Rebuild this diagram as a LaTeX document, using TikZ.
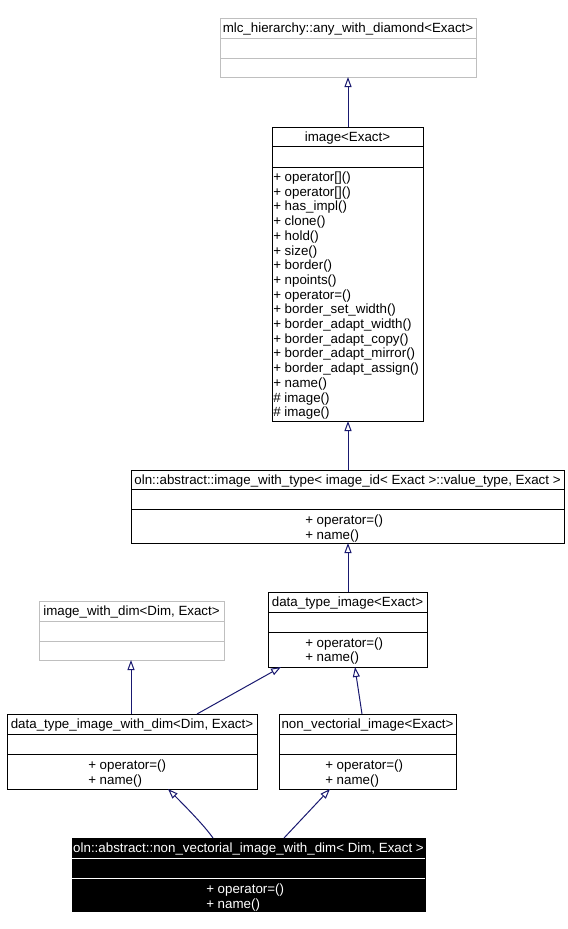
\documentclass[tikz,border=0pt]{standalone}
\usepackage{fontspec}
\setmainfont{Liberation Sans}
\usetikzlibrary{fit,calc,arrows.meta}
\definecolor{boxgray}{RGB}{191,191,191}
\definecolor{edgeblue}{RGB}{25,25,112}
\tikzset{
  umlbox/.style={draw=black, line width=0.75pt, inner sep=0pt, outer sep=0pt},
  graybox/.style={draw=boxgray, line width=0.75pt, inner sep=0pt, outer sep=0pt},
  darkbox/.style={draw=black, fill=black, line width=0.75pt, inner sep=0pt, outer sep=0pt},
  umlsep/.style={draw=black, line width=0.75pt},
  graysep/.style={draw=boxgray, line width=0.75pt},
  darksep/.style={draw=white, line width=0.75pt},
  txt/.style={inner sep=0pt, font=\fontsize{10}{11}\selectfont},
  wtxt/.style={txt, text=white},
  inh/.style={draw=edgeblue, line width=0.75pt,
    -{Triangle[length=7.5pt, width=5.25pt, fill=white, line width=0.75pt]}},
}
\begin{document}
\begin{tikzpicture}[x=0.75pt, y=-0.75pt]
\useasboundingbox (0,0) rectangle (568,929);
\fill[white] (0,0) rectangle (568,929);
% boxes
\node[graybox, fit={(220,18)(476,77)}] (any) {};
\draw[graysep] (220,38) -- (476,38);
\draw[graysep] (220,58) -- (476,58);
\node[umlbox, fit={(272,127)(423,421)}] (img) {};
\draw[umlsep] (272,146) -- (423,146);
\draw[umlsep] (272,167) -- (423,167);
\node[umlbox, fit={(131,470)(564,543)}] (iwt) {};
\draw[umlsep] (131,489) -- (564,489);
\draw[umlsep] (131,509) -- (564,509);
\node[graybox, fit={(39,601)(224,660)}] (iwd) {};
\draw[graysep] (39,621) -- (224,621);
\draw[graysep] (39,641) -- (224,641);
\node[umlbox, fit={(268,592)(427,667)}] (dti) {};
\draw[umlsep] (268,612) -- (427,612);
\draw[umlsep] (268,632) -- (427,632);
\node[umlbox, fit={(7,714)(257,789)}] (dtiwd) {};
\draw[umlsep] (7,734) -- (257,734);
\draw[umlsep] (7,754) -- (257,754);
\node[umlbox, fit={(279,714)(456,789)}] (nvi) {};
\draw[umlsep] (279,734) -- (456,734);
\draw[umlsep] (279,754) -- (456,754);
\node[darkbox, fit={(72,838)(425,911)}] (bot) {};
\draw[darksep] (72,858) -- (425,858);
\draw[darksep] (72,878) -- (425,878);
% titles
\node[txt, anchor=base] (tany) at (348,32) {mlc\_hierarchy::any\_with\_diamond<Exact>};
\node[txt, anchor=base] (timg) at (347.5,141) {image<Exact>};
\node[txt, anchor=base] (tiwt) at (347.5,484) {oln::abstract::image\_with\_type< image\_id< Exact >::value\_type, Exact >};
\node[txt, anchor=base] (tiwd) at (131.5,615) {image\_with\_dim<Dim, Exact>};
\node[txt, anchor=base] (tdti) at (347.5,606) {data\_type\_image<Exact>};
\node[txt, anchor=base] (tdtiwd) at (132,728) {data\_type\_image\_with\_dim<Dim, Exact>};
\node[txt, anchor=base] (tnvi) at (367.5,728) {non\_vectorial\_image<Exact>};
\node[wtxt, anchor=base] (tbot) at (248.5,852) {oln::abstract::non\_vectorial\_image\_with\_dim< Dim, Exact >};
% methods of image
\foreach \m [count=\i from 0] in {+ operator[](), + operator[](), + has\_impl(), + clone(), + hold(), + size(), + border(), + npoints(), + operator=(), + border\_set\_width(), + border\_adapt\_width(), + border\_adapt\_copy(), + border\_adapt\_mirror(), + border\_adapt\_assign(), + name(), \# image(), \# image()}{
  \node[txt, anchor=base west] (mimg\i) at (273,181.5+14.7*\i) {\m};
}
% methods of others
\node[txt, anchor=base west] (miwt1) at (305,524.5) {+ operator=()};
\node[txt, anchor=base west] (miwt2) at (305,539) {+ name()};
\node[txt, anchor=base west] (mdti1) at (305,647) {+ operator=()};
\node[txt, anchor=base west] (mdti2) at (305,661.5) {+ name()};
\node[txt, anchor=base west] (mdtiwd1) at (88,769.5) {+ operator=()};
\node[txt, anchor=base west] (mdtiwd2) at (88,784) {+ name()};
\node[txt, anchor=base west] (mnvi1) at (325,769.5) {+ operator=()};
\node[txt, anchor=base west] (mnvi2) at (325,784) {+ name()};
\node[wtxt, anchor=base west] (mbot1) at (206,893.5) {+ operator=()};
\node[wtxt, anchor=base west] (mbot2) at (206,908) {+ name()};
% inheritance connectors
\draw[inh] ($(img.north west)+(76,0)$) -- ($(any.south west)+(128,0)$);
\draw[inh] ($(iwt.north west)+(217,0)$) -- ($(img.south west)+(76,0)$);
\draw[inh] ($(dti.north west)+(80,0)$) -- ($(iwt.south west)+(217,0)$);
\draw[inh] ($(dtiwd.north west)+(124,0)$) -- ($(iwd.south west)+(92,0)$);
\draw[inh] ($(dtiwd.north west)+(190,0)$) -- ($(dti.south west)+(13,0)$);
\draw[inh] ($(nvi.north west)+(83,0)$) .. controls ($(nvi.north west)+(80,-18)$) .. ($(dti.south west)+(87,0)$);
\draw[inh] ($(bot.north west)+(141,0)$) .. controls ($(bot.north west)+(134,-10)$) and ($(bot.north west)+(120,-25)$) .. ($(dtiwd.south west)+(161,0)$);
\draw[inh] ($(bot.north west)+(212,0)$) -- ($(nvi.south west)+(51,0)$);
\end{tikzpicture}
\end{document}
